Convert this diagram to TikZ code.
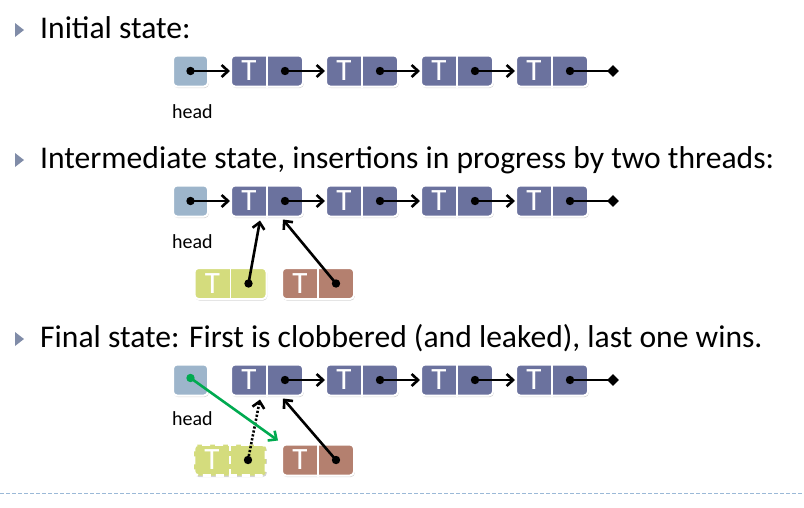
\documentclass[tikz,border=0pt]{standalone}
\usepackage{fontspec}
\setmainfont{Carlito}
\usetikzlibrary{calc,shadows,arrows.meta,shapes.geometric}
\definecolor{nodeblue}{RGB}{107,114,158}
\definecolor{headblue}{RGB}{157,181,203}
\definecolor{ngreen}{RGB}{212,220,125}
\definecolor{nbrown}{RGB}{180,128,111}
\definecolor{bulletc}{RGB}{128,140,168}
\definecolor{agreen}{RGB}{0,170,80}
\definecolor{dashc}{RGB}{155,185,215}
\tikzset{
  cell/.style={rectangle, rounded corners=4pt, draw=white, line width=2pt,
    minimum width=72pt, minimum height=31pt, inner sep=0pt,
    drop shadow={shadow xshift=0.8pt, shadow yshift=-1.5pt, opacity=0.35}},
  headcell/.style={cell, fill=headblue, minimum width=35pt},
  divider/.style={white, line width=1.3pt},
  tlabel/.style={text=white, font=\fontsize{31}{31}\selectfont, inner sep=0pt},
  ptr/.style={line width=2.6pt, black, -{Straight Barb[length=6.5pt,width=12pt]}},
  title/.style={anchor=base west, inner sep=0pt, font=\fontsize{31.6}{32}\selectfont},
  headlbl/.style={anchor=base west, inner sep=0pt, font=\fontsize{20}{20}\selectfont},
  term/.style={diamond, fill=black, minimum size=12pt, inner sep=0pt},
  bullet/.style={fill=bulletc},
}
\newcommand{\listcell}[5][]{% opts, name, x, y, color
  \node[cell, fill=#5, #1] (#2) at (#3,#4) {};
  \draw[divider, #1] (#2.north) -- (#2.south);
  \node[tlabel] (#2t) at ($(#2.center)+(-18,0)$) {T};
  \coordinate (#2p) at ($(#2.center)+(18,0)$);
  \fill (#2p) circle (4.2pt);
}
\begin{document}
\begin{tikzpicture}[x=1pt, y=-1pt]
\useasboundingbox (0,0) rectangle (804,507);

% ---------- titles
\fill[bullet] (15,23) -- (24,30) -- (15,37) -- cycle;
\node[title] (t1) at (40,38) {Initial state:};
\fill[bullet] (15,153) -- (24,160) -- (15,167) -- cycle;
\node[title] (t2) at (40,168) {Intermediate state, insertions in progress by two threads:};
\fill[bullet] (15,332) -- (24,339) -- (15,346) -- cycle;
\node[title] (t3) at (40,347) {Final state: First is clobbered (and leaked), last one wins.};

% ---------- row 1
\node[headcell] (h1) at (190.5,71) {};
\fill (h1.center) circle (4.2pt);
\node[headlbl] (hl1) at (172,118) {head};
\listcell{a1}{267}{71}{nodeblue}
\listcell{a2}{362}{71}{nodeblue}
\listcell{a3}{457}{71}{nodeblue}
\listcell{a4}{552}{71}{nodeblue}
\node[term] (ta) at (613,71) {};
\draw[ptr] (h1.center) -- (a1.west);
\draw[ptr] (a1p) -- (a2.west);
\draw[ptr] (a2p) -- (a3.west);
\draw[ptr] (a3p) -- (a4.west);
\draw[line width=2.6pt] (a4p) -- (ta.center);

% ---------- row 2
\node[headcell] (h2) at (190.5,201) {};
\fill (h2.center) circle (4.2pt);
\node[headlbl] (hl2) at (172,248) {head};
\listcell{b1}{267}{201}{nodeblue}
\listcell{b2}{362}{201}{nodeblue}
\listcell{b3}{457}{201}{nodeblue}
\listcell{b4}{552}{201}{nodeblue}
\node[term] (tb) at (613,201) {};
\draw[ptr] (h2.center) -- (b1.west);
\draw[ptr] (b1p) -- (b2.west);
\draw[ptr] (b2p) -- (b3.west);
\draw[ptr] (b3p) -- (b4.west);
\draw[line width=2.6pt] (b4p) -- (tb.center);
\listcell{g2}{230.5}{283.5}{ngreen}
\listcell{r2}{318}{283.5}{nbrown}
\draw[ptr] (g2p) -- ($(b1.south)+(-7,3)$);
\draw[ptr] (r2p) -- ($(b1.south)+(16,2)$);

% ---------- row 3
\node[headcell] (h3) at (190.5,380) {};
\node[headlbl] (hl3) at (172,425) {head};
\listcell{c1}{267}{380}{nodeblue}
\listcell{c2}{362}{380}{nodeblue}
\listcell{c3}{457}{380}{nodeblue}
\listcell{c4}{552}{380}{nodeblue}
\node[term] (tc) at (613,380) {};
\draw[ptr] (c1p) -- (c2.west);
\draw[ptr] (c2p) -- (c3.west);
\draw[ptr] (c3p) -- (c4.west);
\draw[line width=2.6pt] (c4p) -- (tc.center);
\listcell[line width=2.6pt, dash pattern=on 8pt off 5pt]{g3}{230}{460}{ngreen}
\listcell{r3}{318}{460}{nbrown}
\draw[ptr, dash pattern=on 2.2pt off 1.8pt] (g3p) -- ($(c1.south)+(-7,3)$);
\draw[ptr] (r3p) -- ($(c1.south)+(16,2)$);
\fill[agreen] ($(h3.center)+(0,-2)$) circle (4.2pt);
\draw[ptr, agreen] ($(h3.center)+(0,-2)$) -- ($(r3.north west)+(-3,-3)$);

% ---------- bottom rule
\draw[dashc, line width=1pt, dash pattern=on 4pt off 2pt] (0,493) -- (804,493);
\end{tikzpicture}
\end{document}
